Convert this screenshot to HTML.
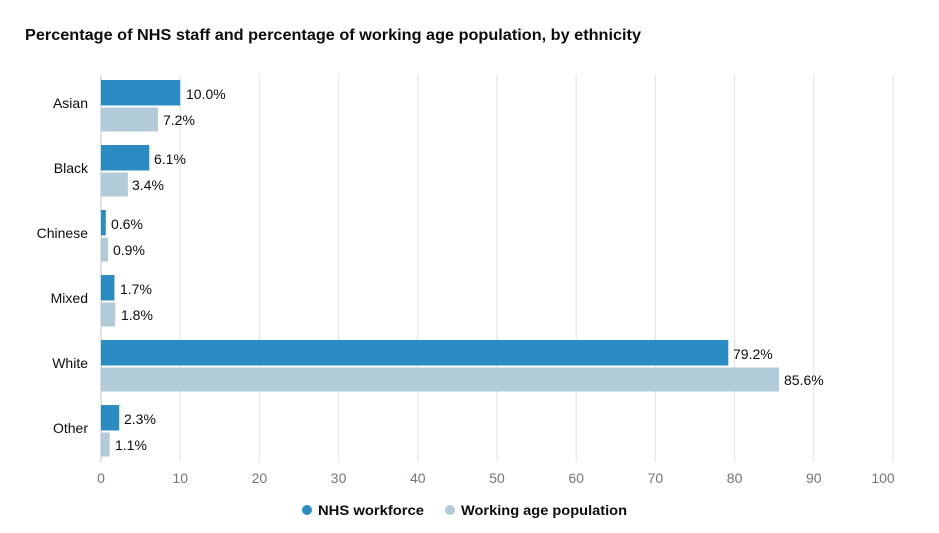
<!DOCTYPE html>
<html><head><style>
body{margin:0;background:#fff;font-family:"Liberation Sans",sans-serif;}
</style></head><body>
<svg width="939" height="528" xmlns="http://www.w3.org/2000/svg" font-family="Liberation Sans, sans-serif">
<rect width="939" height="528" fill="#fff"/>
<text x="25" y="40" font-size="16" font-weight="bold" fill="#0b0c0c" textLength="616" lengthAdjust="spacingAndGlyphs">Percentage of NHS staff and percentage of working age population, by ethnicity</text>
<g stroke="#e6e6e6" stroke-width="1.2">
<line x1="180.2" y1="75" x2="180.2" y2="462"/><line x1="259.4" y1="75" x2="259.4" y2="462"/>
<line x1="338.6" y1="75" x2="338.6" y2="462"/><line x1="417.8" y1="75" x2="417.8" y2="462"/>
<line x1="497" y1="75" x2="497" y2="462"/><line x1="576.2" y1="75" x2="576.2" y2="462"/>
<line x1="655.4" y1="75" x2="655.4" y2="462"/><line x1="734.6" y1="75" x2="734.6" y2="462"/>
<line x1="813.8" y1="75" x2="813.8" y2="462"/><line x1="893" y1="75" x2="893" y2="462"/>
</g>
<line x1="101" y1="75" x2="101" y2="462" stroke="#ccc" stroke-width="1.2"/>
<g font-size="14" fill="#0b0c0c" text-anchor="end">
<text x="88" y="108">Asian</text><text x="88" y="173">Black</text><text x="88" y="238">Chinese</text>
<text x="88" y="303">Mixed</text><text x="88" y="368">White</text><text x="88" y="433">Other</text>
</g>
<g fill="#2b8cc4">
<rect x="101" y="80" width="79.2" height="25.5"/>
<rect x="101" y="145" width="48.3" height="25.5"/>
<rect x="101" y="210" width="4.8" height="25.5"/>
<rect x="101" y="275" width="13.5" height="25.5"/>
<rect x="101" y="340" width="627.3" height="25.5"/>
<rect x="101" y="405" width="18.2" height="25.5"/>
</g>
<g fill="#b2cbd9">
<rect x="101" y="107.5" width="57" height="24"/>
<rect x="101" y="172.5" width="26.9" height="24"/>
<rect x="101" y="237.5" width="7.1" height="24"/>
<rect x="101" y="302.5" width="14.3" height="24"/>
<rect x="101" y="367.5" width="678" height="24"/>
<rect x="101" y="432.5" width="8.7" height="24"/>
</g>
<g font-size="14" fill="#0b0c0c">
<text x="186" y="99">10.0%</text><text x="163" y="125">7.2%</text>
<text x="154" y="164">6.1%</text><text x="132" y="190">3.4%</text>
<text x="111" y="229">0.6%</text><text x="113" y="255">0.9%</text>
<text x="120" y="294">1.7%</text><text x="121" y="320">1.8%</text>
<text x="733" y="359">79.2%</text><text x="784" y="385">85.6%</text>
<text x="124" y="424">2.3%</text><text x="115" y="450">1.1%</text>
</g>
<g font-size="14" fill="#6f777b" text-anchor="middle">
<text x="101" y="483">0</text><text x="180.2" y="483">10</text><text x="259.4" y="483">20</text>
<text x="338.6" y="483">30</text><text x="417.8" y="483">40</text><text x="497" y="483">50</text>
<text x="576.2" y="483">60</text><text x="655.4" y="483">70</text><text x="734.6" y="483">80</text>
<text x="813.8" y="483">90</text><text x="883" y="483">100</text>
</g>
<circle cx="307" cy="510" r="5" fill="#2b8cc4"/>
<text x="318" y="515" font-size="14" font-weight="bold" fill="#0b0c0c" textLength="106" lengthAdjust="spacingAndGlyphs">NHS workforce</text>
<circle cx="450" cy="510" r="5" fill="#b2cbd9"/>
<text x="461" y="515" font-size="14" font-weight="bold" fill="#0b0c0c" textLength="166" lengthAdjust="spacingAndGlyphs">Working age population</text>
</svg>
</body></html>
